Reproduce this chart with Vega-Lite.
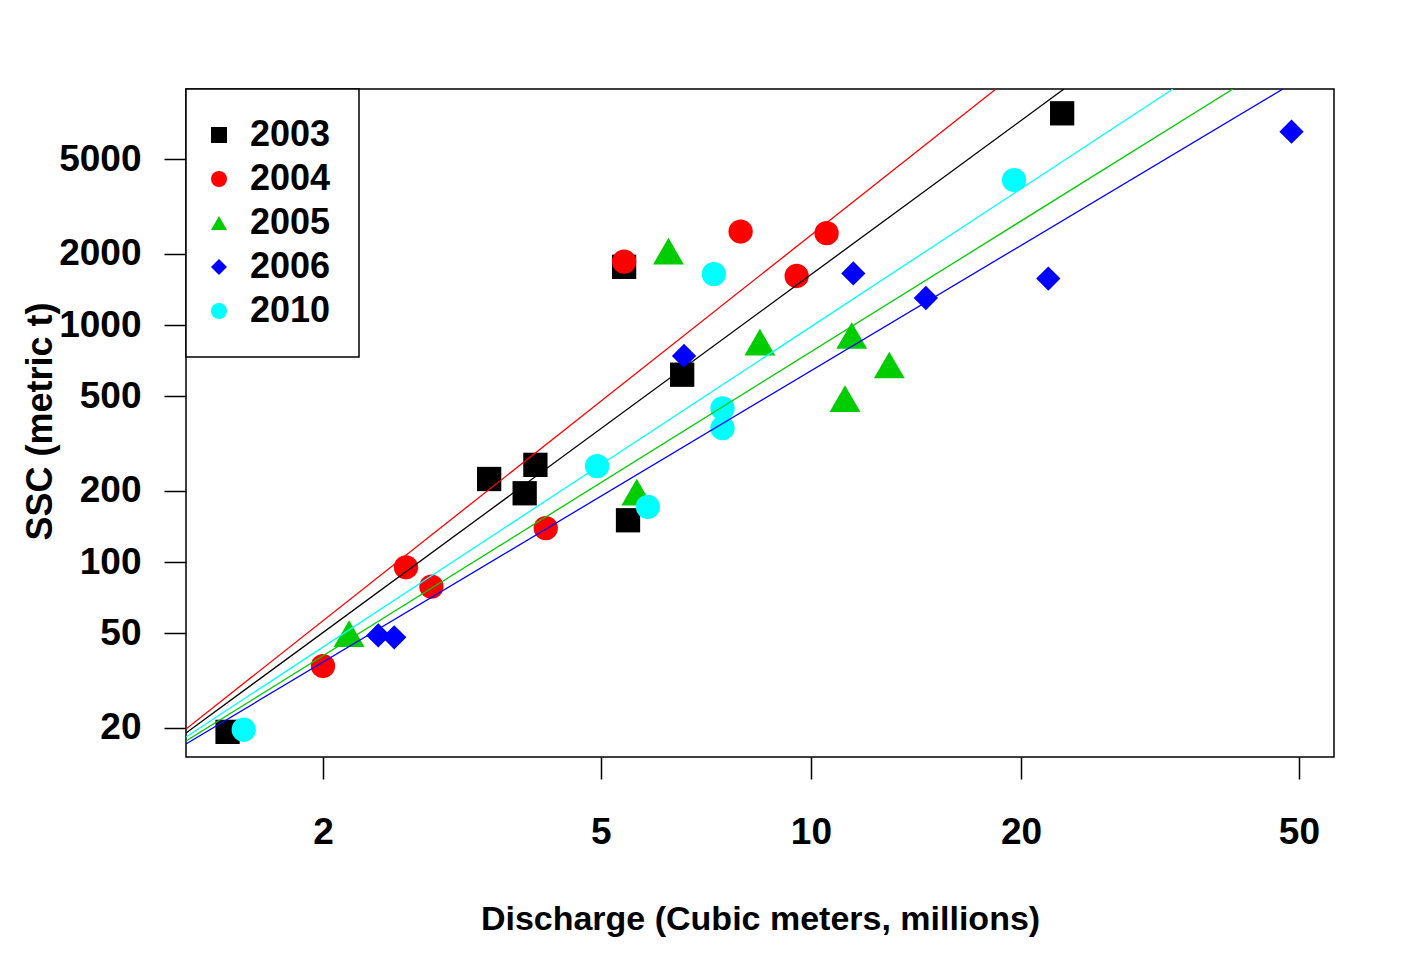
{
  "$schema": "https://vega.github.io/schema/vega-lite/v6.json",
  "width": 1148,
  "height": 668,
  "autosize": {"type": "none"},
  "padding": {"left": 186, "top": 89, "right": 68, "bottom": 205},
  "background": "white",
  "datasets": {
    "pts": [
      {"year": "2003", "q": 1.46, "ssc": 19.2},
      {"year": "2003", "q": 3.46, "ssc": 224},
      {"year": "2003", "q": 3.89, "ssc": 195},
      {"year": "2003", "q": 4.03, "ssc": 257},
      {"year": "2003", "q": 5.40, "ssc": 1760},
      {"year": "2003", "q": 5.47, "ssc": 150},
      {"year": "2003", "q": 6.54, "ssc": 617},
      {"year": "2003", "q": 22.9, "ssc": 7820},
      {"year": "2004", "q": 2.00, "ssc": 36.4},
      {"year": "2004", "q": 2.63, "ssc": 95},
      {"year": "2004", "q": 2.86, "ssc": 78.7},
      {"year": "2004", "q": 4.17, "ssc": 139},
      {"year": "2004", "q": 5.40, "ssc": 1850},
      {"year": "2004", "q": 7.93, "ssc": 2480},
      {"year": "2004", "q": 9.54, "ssc": 1610},
      {"year": "2004", "q": 10.53, "ssc": 2440},
      {"year": "2005", "q": 2.18, "ssc": 49.9},
      {"year": "2005", "q": 5.63, "ssc": 197},
      {"year": "2005", "q": 6.25, "ssc": 2050},
      {"year": "2005", "q": 8.45, "ssc": 846},
      {"year": "2005", "q": 11.19, "ssc": 489},
      {"year": "2005", "q": 11.44, "ssc": 903},
      {"year": "2005", "q": 12.95, "ssc": 678},
      {"year": "2006", "q": 2.40, "ssc": 49.0},
      {"year": "2006", "q": 2.53, "ssc": 48.1},
      {"year": "2006", "q": 6.58, "ssc": 740},
      {"year": "2006", "q": 11.50, "ssc": 1650},
      {"year": "2006", "q": 14.61, "ssc": 1300},
      {"year": "2006", "q": 21.88, "ssc": 1570},
      {"year": "2006", "q": 48.8, "ssc": 6540},
      {"year": "2010", "q": 1.54, "ssc": 19.6},
      {"year": "2010", "q": 4.94, "ssc": 254},
      {"year": "2010", "q": 5.84, "ssc": 171},
      {"year": "2010", "q": 7.26, "ssc": 1640},
      {"year": "2010", "q": 7.47, "ssc": 445},
      {"year": "2010", "q": 7.47, "ssc": 367},
      {"year": "2010", "q": 19.54, "ssc": 4090}
    ],
    "lines": [
      {"year": "2003", "q": 1.273, "ssc": 18.99},
      {"year": "2003", "q": 23.04, "ssc": 9904},
      {"year": "2004", "q": 1.273, "ssc": 19.74},
      {"year": "2004", "q": 18.41, "ssc": 9904},
      {"year": "2005", "q": 1.273, "ssc": 17.57},
      {"year": "2005", "q": 40.23, "ssc": 9904},
      {"year": "2006", "q": 1.273, "ssc": 17.07},
      {"year": "2006", "q": 47.44, "ssc": 9904},
      {"year": "2010", "q": 1.273, "ssc": 18.26},
      {"year": "2010", "q": 33.01, "ssc": 9904}
    ]
  },
  "config": {
    "view": {"stroke": "black", "strokeWidth": 1.5, "fill": "white"},
    "axis": {
      "grid": false,
      "domain": false,
      "tickSize": 22,
      "tickWidth": 1.5,
      "tickColor": "black",
      "labelFont": "Liberation Sans",
      "labelFontWeight": "bold",
      "labelFontSize": 37,
      "labelColor": "black",
      "labelFlush": false,
      "labelOverlap": false,
      "titleFont": "Liberation Sans",
      "titleFontWeight": "bold",
      "titleFontSize": 34,
      "titleColor": "black"
    },
    "legend": {
      "strokeWidth": 1.5
    }
  },
  "layer": [
    {
      "data": {"name": "pts"},
      "mark": {"type": "point", "filled": true, "opacity": 1, "strokeWidth": 0},
      "encoding": {
        "x": {
          "field": "q", "type": "quantitative",
          "scale": {"type": "log", "domain": [1.273, 56.14], "nice": false, "zero": false},
          "axis": {
            "values": [2, 5, 10, 20, 50], "format": "d",
            "labelPadding": 35,
            "title": "Discharge (Cubic meters, millions)",
            "titleBaseline": "alphabetic", "titleY": 172, "titleX": 574, "titleAlign": "center"
          }
        },
        "y": {
          "field": "ssc", "type": "quantitative",
          "scale": {"type": "log", "domain": [15.04, 9904], "nice": false, "zero": false},
          "axis": {
            "values": [20, 50, 100, 200, 500, 1000, 2000, 5000], "format": "d",
            "labelPadding": 23,
            "title": "SSC (metric t)",
            "titleFontSize": 36,
            "titleAngle": -90, "titleBaseline": "alphabetic", "titleAlign": "center",
            "titleX": -135, "titleY": 332
          }
        },
        "color": {
          "field": "year", "type": "nominal",
          "scale": {"domain": ["2003", "2004", "2005", "2006", "2010"], "range": ["#000000", "#ff0000", "#00cd00", "#0000ff", "#00ffff"]},
          "legend": {
            "orient": "top-left", "offset": 0, "title": null,
            "padding": 28, "strokeColor": "black", "fillColor": "white",
            "labelFont": "Liberation Sans", "labelFontWeight": "bold", "labelFontSize": 36, "labelColor": "black",
            "symbolSize": 256, "symbolStrokeWidth": 0, "symbolOpacity": 1,
            "rowPadding": 8, "labelOffset": 13, "symbolOffset": -13
          }
        },
        "shape": {
          "field": "year", "type": "nominal",
          "scale": {"domain": ["2003", "2004", "2005", "2006", "2010"], "range": ["square", "circle", "triangle-up", "diamond", "circle"]},
          "legend": {
            "orient": "top-left", "offset": 0, "title": null,
            "padding": 28, "strokeColor": "black", "fillColor": "white",
            "labelFont": "Liberation Sans", "labelFontWeight": "bold", "labelFontSize": 36, "labelColor": "black",
            "symbolSize": 256, "symbolStrokeWidth": 0, "symbolOpacity": 1,
            "rowPadding": 8, "labelOffset": 13, "symbolOffset": -13
          }
        },
        "size": {
          "condition": {"test": "datum.year === '2005'", "value": 950},
          "value": 590
        }
      }
    },
    {
      "data": {"name": "lines"},
      "mark": {"type": "line", "strokeWidth": 1.3, "clip": true},
      "encoding": {
        "x": {"field": "q", "type": "quantitative"},
        "y": {"field": "ssc", "type": "quantitative"},
        "stroke": {
          "field": "year", "type": "nominal",
          "scale": {"domain": ["2003", "2004", "2005", "2006", "2010"], "range": ["#000000", "#ff0000", "#00cd00", "#0000ff", "#00ffff"]},
          "legend": null
        }
      }
    }
  ]
}
